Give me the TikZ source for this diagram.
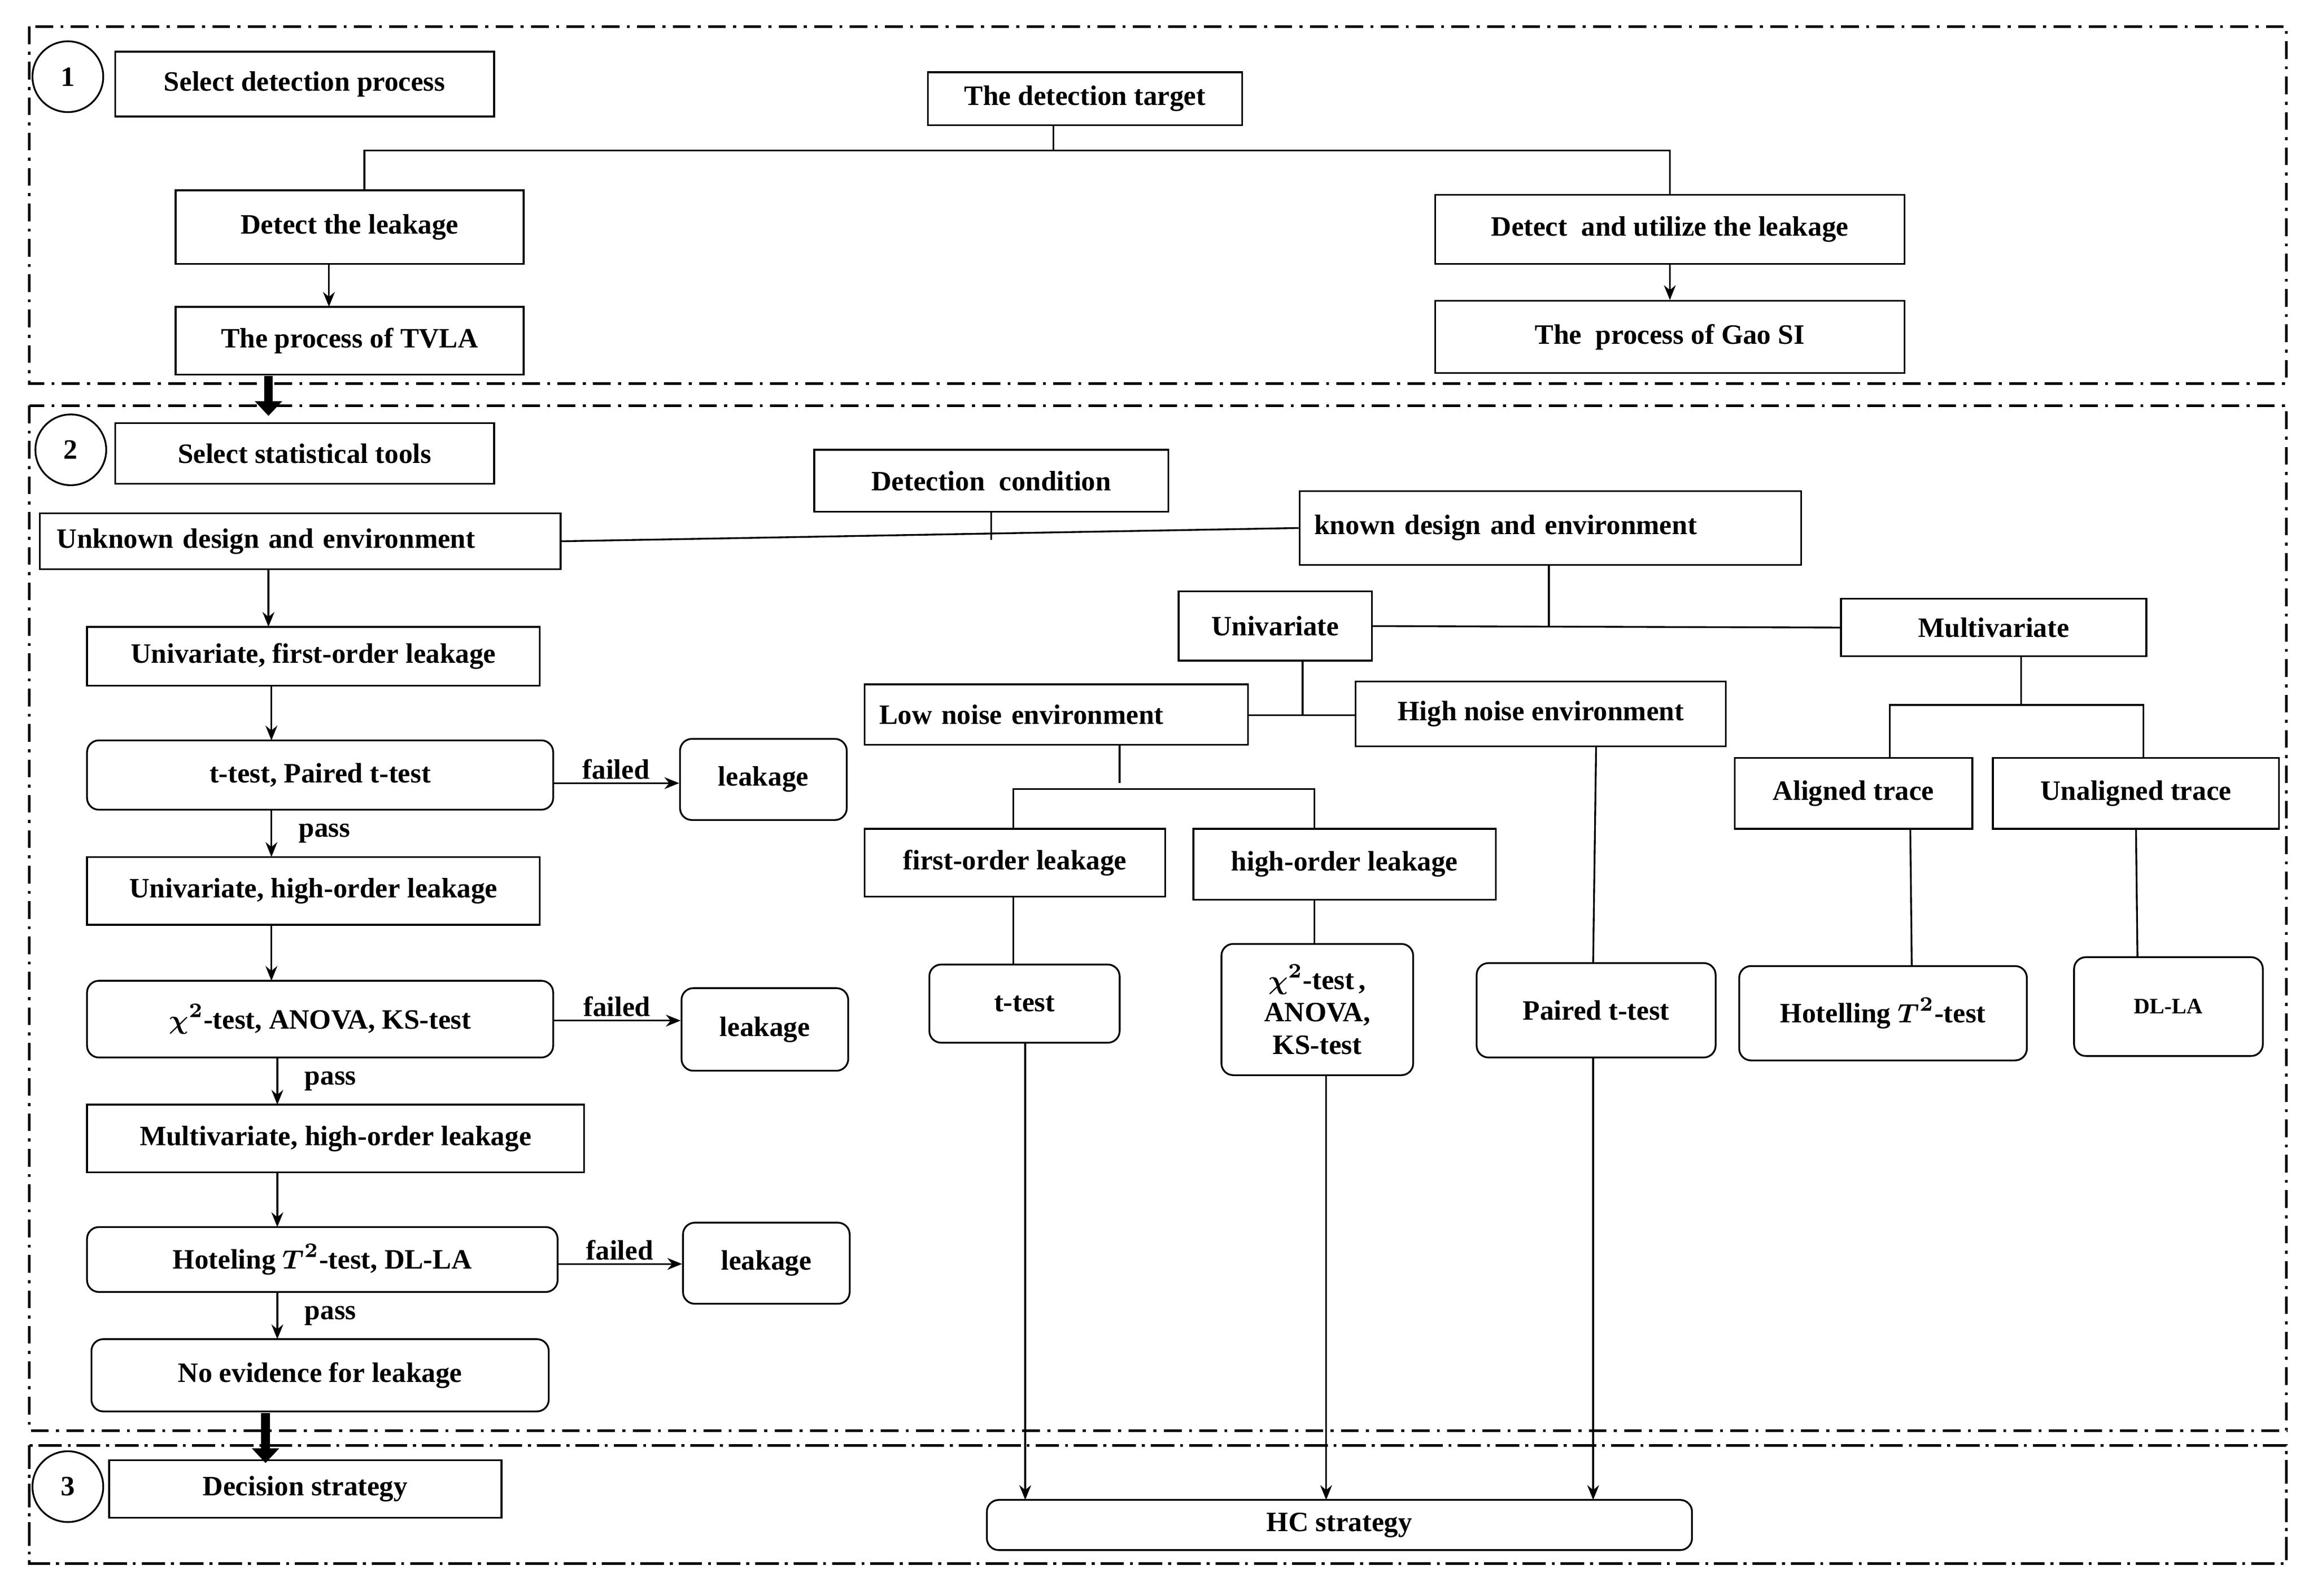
\documentclass[tikz,border=0pt]{standalone}
\usepackage{fontspec}
\setmainfont{Liberation Serif}
\usetikzlibrary{arrows.meta}
\newcommand\bx[7][box]{\node[#1,minimum width={(#5-#3)*0.5},minimum height={(#6-#4)*0.5}] (#2) at ({(#3+#5)/2},{(#4+#6)/2}) {#7};}
\begin{document}
\begin{tikzpicture}[x=0.5pt,y=-0.5pt,
 box/.style={draw,line width=0.6pt,inner sep=1pt,font=\bfseries\boldmath\fontsize{9.5}{11}\selectfont,align=center},
 rbox/.style={box,rounded corners=4pt},
 lbox/.style={box,text width={(#1)*0.5pt},align=left},
 sec/.style={line width=0.9pt,dash pattern=on 6pt off 2.5pt on 1pt off 2.5pt},
 ln/.style={line width=0.6pt},
 ar/.style={ln,-{Stealth[length=5pt,width=4pt]}},
 big/.style={line width=3pt,-{Triangle[length=5pt,width=9pt]}},
 lab/.style={font=\bfseries\fontsize{9.5}{11}\selectfont,inner sep=1pt}]
\useasboundingbox (0,0) rectangle (1568,1082);
\draw[sec] (20,18) rectangle (1550,260);
\draw[sec] (20,275) rectangle (1550,970);
\draw[sec,dash pattern=on 8pt off 2pt on 1pt off 2pt] (20,980) rectangle (1550,1060);
\node[circle,draw,line width=0.6pt,minimum size=24pt,lab] (c1) at (46,52) {1};
\node[circle,draw,line width=0.6pt,minimum size=24pt,lab] (c2) at (48,305) {2};
\node[circle,draw,line width=0.6pt,minimum size=24pt,lab] (c3) at (46,1008) {3};
% section 1
\bx{s1}{78}{35}{335}{79}{Select detection process}
\bx{tgt}{629}{49}{842}{85}{The detection target}
\bx{dl}{119}{129}{355}{179}{Detect the leakage}
\bx{tvla}{119}{208}{355}{254}{The process of TVLA}
\bx{du}{973}{132}{1291}{179}{Detect\ \ and utilize the leakage}
\bx{gao}{973}{204}{1291}{253}{The\ \ process of Gao SI}
\coordinate (j1) at (247,102); \coordinate (j2) at (1132,102);
\draw[ln] (714,85) -- (714,102);
\draw[ln] (247,129) -- (j1) -- (j2) -- (1132,132);
\draw[ar] (223,179) -- (223,208);
\draw[ar] (du.south) -- (gao.north);
\draw[big] (182,255) -- (182,282);
% section 2
\bx{s2}{78}{287}{335}{328}{Select statistical tools}
\bx{dc}{552}{305}{792}{347}{Detection\ \ condition}
\bx[lbox=330]{unk}{27}{348}{380}{386}{Unknown design and environment}
\bx[lbox=320]{kn}{881}{333}{1221}{383}{known design and environment}
\draw[ln] (unk.east) -- (kn.west);
\draw[ln] (672,347) -- (672,366);
\bx{u1}{59}{425}{366}{465}{Univariate, first-order leakage}
\bx[rbox]{tt}{59}{502}{375}{549}{t-test, Paired t-test}
\bx[rbox]{lk1}{461}{501}{574}{556}{leakage}
\bx{u2}{59}{581}{366}{627}{Univariate, high-order leakage}
\bx[rbox]{chi}{59}{665}{375}{717}{$\chi^2$-test, ANOVA, KS-test}
\bx[rbox]{lk2}{462}{670}{575}{726}{leakage}
\bx{m1}{59}{749}{396}{795}{Multivariate, high-order leakage}
\bx[rbox]{ho}{59}{832}{378}{876}{Hoteling $T^2$-test, DL-LA}
\bx[rbox]{lk3}{463}{829}{576}{884}{leakage}
\bx[rbox]{ne}{62}{908}{372}{957}{No evidence for leakage}
\draw[ar] (182,386) -- (182,425);
\draw[ar] (184,465) -- (184,502);
\draw[ar] (375,531) -- node[lab,above]{failed} (lk1.west|-0,531);
\draw[ar] (184,549) -- node[lab,right,xshift=8pt]{pass} (184,581);
\draw[ar] (184,627) -- (184,665);
\draw[ar] (375,692) -- node[lab,above]{failed} (lk2.west|-0,692);
\draw[ar] (188,717) -- node[lab,right,xshift=8pt]{pass} (188,749);
\draw[ar] (188,795) -- (188,832);
\draw[ar] (378,857) -- node[lab,above]{failed} (lk3.west|-0,857);
\draw[ar] (188,876) -- node[lab,right,xshift=8pt]{pass} (188,908);
\draw[big] (180,958) -- (180,992);
% right side
\bx{uni}{799}{401}{930}{448}{Univariate}
\bx{mul}{1248}{406}{1455}{445}{Multivariate}
\draw[ln] (uni.east) -- (mul.west);
\draw[ln] (1050,383) -- (1050,425);
\bx[lbox=240]{low}{586}{464}{846}{505}{Low noise environment}
\bx{high}{919}{462}{1170}{506}{High noise environment}
\draw[ln] (883,448) -- (883,485);
\draw[ln] (846,485) -- (919,485);
\bx{fo}{586}{562}{790}{608}{first-order leakage}
\bx{hoo}{809}{562}{1014}{610}{high-order leakage}
\draw[ln] (759,505) -- (759,531);
\draw[ln] (687,562) -- (687,535) -- (891,535) -- (891,562);
\bx[rbox]{t2}{630}{654}{759}{707}{t-test}
\bx[rbox]{chi2}{828}{640}{958}{729}{$\chi^2$-test\,,\\ANOVA,\\KS-test}
\bx[rbox]{pt}{1001}{653}{1163}{717}{Paired t-test}
\draw[ln] (687,608) -- (687,654);
\draw[ln] (891,610) -- (891,640);
\draw[ln] (1082,506) -- (1080,653);
\bx{al}{1176}{514}{1337}{562}{Aligned trace}
\bx{ua}{1351}{514}{1545}{562}{Unaligned trace}
\draw[ln] (1370,445) -- (1370,478);
\draw[ln] (1281,514) -- (1281,478) -- (1453,478) -- (1453,514);
\bx[rbox]{hot}{1179}{655}{1374}{719}{Hotelling $T^2$-test}
\bx[rbox,font=\bfseries\fontsize{7.5}{9}\selectfont]{dla}{1406}{649}{1534}{716}{DL-LA}
\draw[ln] (1295,562) -- (1296,655);
\draw[ln] (1448,562) -- (1449,649);
% section 3
\bx{ds}{74}{990}{340}{1029}{Decision strategy}
\bx[rbox]{hc}{669}{1017}{1147}{1051}{HC strategy}
\draw[ar] (695,707) -- (695,1017);
\draw[ar] (899,729) -- (899,1017);
\draw[ar] (1080,717) -- (1080,1017);
\end{tikzpicture}
\end{document}
